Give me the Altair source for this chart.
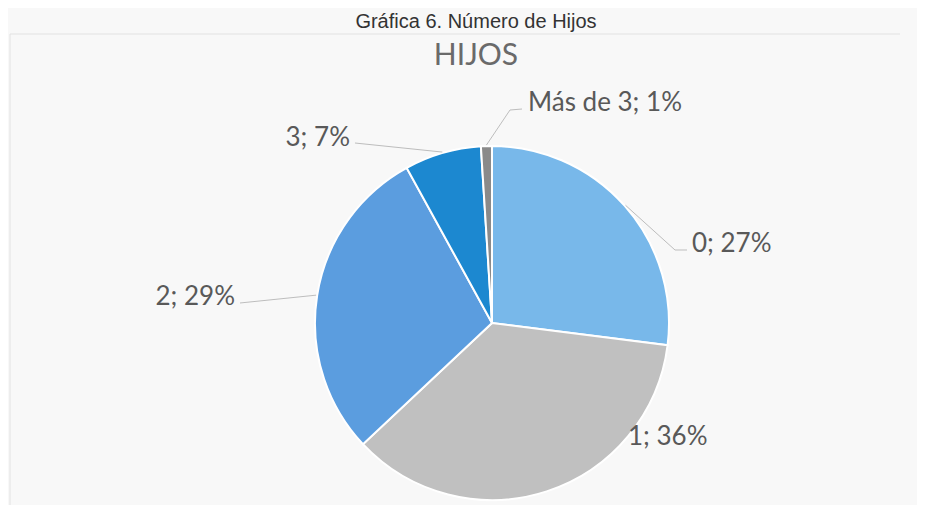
import altair as alt
import pandas as pd

# ---- data ----
categories = ["0", "1", "2", "3", "Más de 3"]
percentages = [27, 36, 29, 7, 1]
labels = ["0; 27%", "1; 36%", "2; 29%", "3; 7%", "Más de 3; 1%"]
chart_title = ["HIJOS"]
caption = ["Gráfica 6. Número de Hijos"]

# ---- style / layout ----
colors = ["#78b8ea", "#c0c0c0", "#5b9ddf", "#1c88d0", "#8a8a8a"]
CX, CY, R = 484, 315, 177          # pie centre and radius (px)
has_leader = [True, False, True, True, True]
elbow_dx = [183, 0, -252, -137, 18]
elbow_dy = [-73, 0, -20, -180, -213]
end_dx = [195, 0, -252, -137, 30]
end_dy = [-73, 0, -20, -180, -214]
text_dx = [200, 136, -257, -142, 36]
text_dy = [-71, 122, -18, -177, -212]
text_side = ["left", "left", "right", "right", "left"]

df = pd.DataFrame({
    "idx": list(range(len(categories))),
    "cat": categories,
    "value": percentages,
    "label": labels,
    "leader": has_leader,
    "elbow_dx": elbow_dx, "elbow_dy": elbow_dy,
    "end_dx": end_dx, "end_dy": end_dy,
    "text_dx": text_dx, "text_dy": text_dy,
    "side": text_side,
})

base = alt.Chart(df)

arc = base.mark_arc(outerRadius=R, stroke="white", strokeWidth=2).encode(
    theta=alt.Theta("value:Q", stack=True),
    color=alt.Color("cat:N", scale=alt.Scale(domain=categories, range=colors), legend=None),
    order=alt.Order("idx:Q"),
    x=alt.value(CX),
    y=alt.value(CY),
)

geo = base.transform_window(
    cum="sum(value)", sort=[alt.SortField("idx")]
).transform_joinaggregate(
    total="sum(value)"
).transform_calculate(
    mid="2*PI*(datum.cum - datum.value/2)/datum.total",
    ex=f"{CX} + {R + 1}*sin(datum.mid)",
    ey=f"{CY} - {R + 1}*cos(datum.mid)",
    bx=f"{CX} + datum.elbow_dx",
    by=f"{CY} + datum.elbow_dy",
    fx=f"{CX} + datum.end_dx",
    fy=f"{CY} + datum.end_dy",
    tx=f"{CX} + datum.text_dx",
    ty=f"{CY} + datum.text_dy",
)

line_color = "#bdbdbd"
leader1 = geo.transform_filter("datum.leader").mark_rule(color=line_color, strokeWidth=1).encode(
    x=alt.X("ex:Q", scale=None, axis=None),
    y=alt.Y("ey:Q", scale=None, axis=None),
    x2="bx:Q",
    y2="by:Q",
)
leader2 = geo.transform_filter("datum.leader").mark_rule(color=line_color, strokeWidth=1).encode(
    x=alt.X("bx:Q", scale=None, axis=None),
    y=alt.Y("by:Q", scale=None, axis=None),
    x2="fx:Q",
    y2="fy:Q",
)

label_style = dict(baseline="alphabetic", font="Lato", fontSize=26, color="#595959")
text_left = geo.transform_filter("datum.side == 'left'").mark_text(align="left", **label_style).encode(
    x=alt.X("tx:Q", scale=None, axis=None),
    y=alt.Y("ty:Q", scale=None, axis=None),
    text="label:N",
)
text_right = geo.transform_filter("datum.side == 'right'").mark_text(align="right", **label_style).encode(
    x=alt.X("tx:Q", scale=None, axis=None),
    y=alt.Y("ty:Q", scale=None, axis=None),
    text="label:N",
)

title = alt.Chart(pd.DataFrame({"t": chart_title})).mark_text(
    align="center", baseline="alphabetic", font="Lato", fontSize=30, color="#6a6a6a"
).encode(text="t:N", x=alt.value(468), y=alt.value(57))

cap = alt.Chart(pd.DataFrame({"t": caption})).mark_text(
    align="center", baseline="alphabetic", font="Liberation Sans", fontSize=20, color="#333333"
).encode(text="t:N", x=alt.value(468), y=alt.value(20))

border_top = alt.Chart(pd.DataFrame({"t": [0]})).mark_rule(color="#e2e2e2", strokeWidth=1).encode(
    x=alt.value(2), x2=alt.value(892), y=alt.value(26)
)
border_left = alt.Chart(pd.DataFrame({"t": [0]})).mark_rule(color="#e2e2e2", strokeWidth=1).encode(
    x=alt.value(2), y=alt.value(26), y2=alt.value(497)
)

chart = alt.layer(
    border_top, border_left, arc, leader1, leader2, text_left, text_right, title, cap
).properties(
    width=909, height=497, padding=0,
    autosize=alt.AutoSizeParams(type="none"),
).configure(background="#f8f8f8").configure_view(stroke=None)

chart.save("out.html", embed_options={"renderer": "svg", "actions": False})
